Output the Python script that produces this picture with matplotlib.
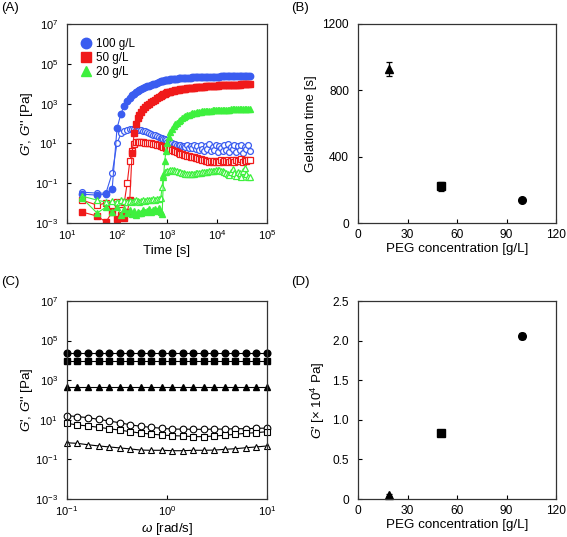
import numpy as np
import matplotlib
matplotlib.use("Agg")
import matplotlib.pyplot as plt
from matplotlib.lines import Line2D
from matplotlib.ticker import LogLocator, LogFormatterMathtext, FixedLocator, NullLocator

plt.rcParams['font.family'] = ['Liberation Sans', 'DejaVu Sans']
plt.rcParams['mathtext.fontset'] = 'custom'
plt.rcParams['mathtext.rm'] = 'Liberation Sans'
plt.rcParams['mathtext.it'] = 'Liberation Sans:italic'
plt.rcParams['mathtext.bf'] = 'Liberation Sans:bold'

# ---------------- Panel A: time sweep ----------------
time_s = [20, 40, 60, 80, 100, 120, 140, 160, 180, 200, 220, 240, 260, 280,
          300, 330, 360, 400, 440, 480, 530, 580, 640, 700, 750, 800, 850, 900, 950,
          1000, 1080, 1170, 1260, 1360, 1470, 1590, 1720, 1860, 2010,
          2170, 2340, 2530, 2740, 2960, 3200, 3460, 3740, 4040, 4370,
          4720, 5100, 5510, 5960, 6440, 6960, 7520, 8130, 8790, 9500,
          10270, 11100, 12000, 12970, 14020, 15150, 16380, 17700, 19130, 20680,
          22350, 24160, 26110, 28220, 30500, 32970, 35640, 38520, 41630, 45000]

# log10 of moduli [Pa]
g100_Gp_log = [-1.55, -1.6, -1.55, -1.3, 1.75, 2.5, 2.9, 3.15, 3.3, 3.42, 3.5, 3.58, 3.64, 3.68,
               3.72, 3.77, 3.81, 3.86, 3.9, 3.94, 3.98, 4.01, 4.05, 4.09, 4.12, 4.14, 4.16, 4.17, 4.19,
               4.20, 4.21, 4.22, 4.23, 4.24, 4.25, 4.26, 4.27, 4.28, 4.28,
               4.29, 4.30, 4.30, 4.31, 4.31, 4.32, 4.32, 4.33, 4.33, 4.33,
               4.34, 4.34, 4.34, 4.35, 4.35, 4.35, 4.35, 4.36, 4.36, 4.36,
               4.36, 4.36, 4.37, 4.37, 4.37, 4.37, 4.37, 4.37, 4.38, 4.38,
               4.38, 4.38, 4.38, 4.38, 4.38, 4.38, 4.38, 4.38, 4.38, 4.38]
g100_Gpp_log = [-1.45, -1.5, -1.5, -0.5, 1.0, 1.5, 1.62, 1.68, 1.7, 1.7, 1.7, 1.69, 1.68, 1.67,
                1.65, 1.62, 1.6, 1.56, 1.52, 1.48, 1.44, 1.4, 1.36, 1.32, 1.28, 1.25, 1.22, 1.2, 1.15,
                1.08, 1.05, 1.02, 1.0, 0.98, 0.95, 0.93, 0.9, 0.92, 0.85,
                0.88, 0.8, 0.9, 0.78, 0.85, 0.75, 0.9, 0.7, 0.85, 0.65,
                0.9, 0.72, 0.6, 0.88, 0.7, 0.95, 0.6, 0.82, 0.68, 0.92,
                0.55, 0.85, 0.75, 0.6, 0.9, 0.65, 0.95, 0.55, 0.8, 0.7,
                0.9, 0.55, 0.85, 0.65, 0.92, 0.5, 0.8, 0.7, 0.9, 0.6]
g50_Gp_log = [-2.45, -2.65, -2.95, -2.45, -2.8, -2.6, -2.75, -2.45, -1.85, 0.5, 1.5, 2.0, 2.3, 2.45,
              2.6, 2.72, 2.82, 2.92, 3.0, 3.07, 3.14, 3.2, 3.27, 3.33, 3.38, 3.42, 3.46, 3.5, 3.53,
              3.56, 3.58, 3.6, 3.62, 3.64, 3.66, 3.68, 3.69, 3.71, 3.72,
              3.74, 3.75, 3.76, 3.77, 3.78, 3.79, 3.8, 3.81, 3.82, 3.83,
              3.84, 3.85, 3.85, 3.86, 3.87, 3.87, 3.88, 3.89, 3.89, 3.9,
              3.9, 3.91, 3.91, 3.92, 3.92, 3.93, 3.93, 3.93, 3.94, 3.94,
              3.94, 3.95, 3.95, 3.95, 3.96, 3.96, 3.96, 3.96, 3.97, 3.97]
g50_Gpp_log = [-1.85, -2.1, -2.0, -2.1, -1.95, -2.05, -1.95, -1.0, 0.1, 0.6, 0.95, 1.05, 1.05, 1.06,
               1.05, 1.05, 1.04, 1.03, 1.02, 1.0, 0.98, 0.96, 0.93, 0.9, 0.88, 0.85, 0.82, 0.8, 0.78,
               0.75, 0.72, 0.7, 0.66, 0.63, 0.6, 0.56, 0.52, 0.48, 0.45,
               0.42, 0.4, 0.37, 0.35, 0.33, 0.3, 0.3, 0.27, 0.25, 0.22,
               0.2, 0.18, 0.15, 0.12, 0.1, 0.08, 0.12, 0.05, 0.1, 0.05,
               0.12, 0.08, 0.15, 0.05, 0.12, 0.1, 0.18, 0.05, 0.12, 0.15,
               0.08, 0.18, 0.1, 0.12, 0.2, 0.08, 0.15, 0.12, 0.18, 0.15]
g20_Gp_log = [-1.75, -2.5, -2.2, -2.45, -2.2, -2.6, -2.3, -2.5, -2.35, -2.55, -2.4, -2.6, -2.45, -2.5,
              -2.5, -2.35, -2.45, -2.4, -2.3, -2.45, -2.35, -2.3, -2.4, -2.25, -2.45, -2.55, -0.7, 0.1, 0.6,
              1.0, 1.3, 1.55, 1.72, 1.85, 1.95, 2.05, 2.12, 2.2, 2.26,
              2.32, 2.37, 2.41, 2.45, 2.48, 2.51, 2.53, 2.55, 2.57, 2.58,
              2.6, 2.61, 2.62, 2.63, 2.64, 2.65, 2.65, 2.66, 2.67, 2.67,
              2.68, 2.68, 2.69, 2.69, 2.69, 2.7, 2.7, 2.7, 2.71, 2.71,
              2.71, 2.71, 2.72, 2.72, 2.72, 2.72, 2.72, 2.72, 2.72, 2.72]
g20_Gpp_log = [-1.65, -1.85, -1.95, -1.9, -1.95, -1.85, -1.9, -1.95, -1.9, -1.95, -1.9, -1.85, -1.9, -1.92,
               -1.9, -1.85, -1.88, -1.85, -1.82, -1.85, -1.8, -1.82, -1.78, -1.8, -1.75, -1.2, -0.6, -0.45, -0.42,
               -0.4, -0.37, -0.35, -0.33, -0.35, -0.37, -0.4, -0.42, -0.45, -0.47,
               -0.5, -0.52, -0.55, -0.55, -0.53, -0.55, -0.52, -0.5, -0.5, -0.48,
               -0.47, -0.45, -0.45, -0.43, -0.42, -0.4, -0.4, -0.38, -0.37, -0.35,
               -0.35, -0.33, -0.38, -0.4, -0.45, -0.5, -0.55, -0.6, -0.45, -0.3,
               -0.5, -0.65, -0.45, -0.5, -0.7, -0.4, -0.25, -0.55, -0.7, -0.7]

conc_labels = ["100 g/L", "50 g/L", "20 g/L"]
colors_A = ["#3a5cf0", "#f01a1a", "#3ef03e"]

# ---------------- Panel B / D ----------------
peg_conc = [19, 50, 99.5]
gel_time = [930, 222, 139]
gel_time_err = [42, 27, 8]
gprime_e4 = [0.05, 0.83, 2.06]
gprime_e4_err = [0.01, 0.01, 0.04]
markers_BD = ["^", "s", "o"]

# ---------------- Panel C: frequency sweep ----------------
omega = [0.1, 0.127, 0.162, 0.207, 0.264, 0.336, 0.428, 0.546, 0.695, 0.886, 1.13,
         1.44, 1.83, 2.34, 2.98, 3.79, 4.83, 6.16, 7.85, 10.0]
c100_Gp_log = [4.37] * 20
c50_Gp_log = [3.98] * 20
c20_Gp_log = [2.67] * 20
c100_Gpp_log = [1.21, 1.16, 1.11, 1.02, 0.94, 0.85, 0.75, 0.67, 0.62, 0.57, 0.53, 0.53,
                0.52, 0.52, 0.53, 0.53, 0.55, 0.55, 0.57, 0.58]
c50_Gpp_log = [0.82, 0.74, 0.69, 0.62, 0.55, 0.48, 0.40, 0.33, 0.28, 0.23, 0.20, 0.18,
               0.15, 0.15, 0.18, 0.22, 0.27, 0.32, 0.35, 0.40]
c20_Gpp_log = [-0.16, -0.19, -0.26, -0.32, -0.37, -0.42, -0.47, -0.53, -0.54, -0.54,
               -0.56, -0.56, -0.54, -0.54, -0.53, -0.49, -0.46, -0.41, -0.37, -0.32]

fig = plt.figure(figsize=(5.67, 5.37), dpi=100)
W, H = 567.0, 537.0


def add_ax(l, t, r, b):
    return fig.add_axes([l / W, 1 - b / H, (r - l) / W, (b - t) / H])


axA = add_ax(67, 24, 267, 223)
axB = add_ax(358, 24, 556, 223)
axC = add_ax(67, 301, 267, 499)
axD = add_ax(358, 301, 556, 499)

LOG_TICK_FS = 8.0
LIN_TICK_FS = 8.6
LAB_FS = 9.6

for ax, fs in ((axA, LOG_TICK_FS), (axB, LIN_TICK_FS), (axC, LOG_TICK_FS), (axD, LIN_TICK_FS)):
    for s in ax.spines.values():
        s.set_linewidth(0.9)
        s.set_color("#333333")
    ax.tick_params(direction="in", length=3, width=0.8, labelsize=fs,
                   top=False, right=False)
    ax.tick_params(axis="y", pad=6.5)
    ax.tick_params(axis="x", pad=4)

# Panel A
t = np.array(time_s)
series_A = [(g100_Gp_log, g100_Gpp_log, "o"), (g50_Gp_log, g50_Gpp_log, "s"),
            (g20_Gp_log, g20_Gpp_log, "^")]
for (gp, gpp, m), c in zip(series_A, colors_A):
    axA.plot(t, 10 ** np.array(gpp), marker=m, ms=4.2, mfc="white", mec=c, mew=0.9,
             color=c, lw=0.8)
    axA.plot(t, 10 ** np.array(gp), marker=m, ms=4.6, mfc=c, mec=c, color=c, lw=0.8)
axA.set_xscale("log")
axA.set_yscale("log")
axA.set_xlim(10, 1e5)
axA.set_ylim(1e-3, 1e7)
axA.xaxis.set_major_locator(LogLocator(base=10, numticks=10))
axA.xaxis.set_minor_locator(NullLocator())
axA.yaxis.set_major_locator(FixedLocator([1e-3, 1e-1, 1e1, 1e3, 1e5, 1e7]))
axA.yaxis.set_minor_locator(NullLocator())
axA.xaxis.set_major_formatter(LogFormatterMathtext())
axA.yaxis.set_major_formatter(LogFormatterMathtext())
axA.set_xlabel("Time [s]", fontsize=LAB_FS, labelpad=2)
axA.set_ylabel("$G$', $G$'' [Pa]", fontsize=LAB_FS, labelpad=0)
handles = [Line2D([], [], ls="none", marker=m, ms=7.5, mfc=c, mec=c)
           for m, c in zip(["o", "s", "^"], colors_A)]
axA.legend(handles, conc_labels, loc="upper left", frameon=False, fontsize=8.4,
           handletextpad=0.2, labelspacing=0.15, borderaxespad=0.3, handlelength=1.2,
           bbox_to_anchor=(0.02, 0.97))

# Panel B
for x, y, e, m in zip(peg_conc, gel_time, gel_time_err, markers_BD):
    axB.errorbar(x, y, yerr=e, fmt=m, ms=5.5, color="black", ecolor="black",
                 elinewidth=0.9, capsize=2.5, capthick=0.9)
axB.set_xlim(0, 120)
axB.set_ylim(0, 1200)
axB.set_xticks([0, 30, 60, 90, 120])
axB.set_yticks([0, 400, 800, 1200])
axB.set_xlabel("PEG concentration [g/L]", fontsize=LAB_FS, labelpad=2)
axB.set_ylabel("Gelation time [s]", fontsize=LAB_FS, labelpad=4)

# Panel C
w = np.array(omega)
for gp, gpp, m in [(c100_Gp_log, c100_Gpp_log, "o"), (c50_Gp_log, c50_Gpp_log, "s"),
                   (c20_Gp_log, c20_Gpp_log, "^")]:
    axC.plot(w, 10 ** np.array(gp), marker=m, ms=4.8, mfc="black", mec="black",
             color="black", lw=0.8, clip_on=False)
    axC.plot(w, 10 ** np.array(gpp), marker=m, ms=4.8, mfc="white", mec="black",
             mew=0.8, color="black", lw=0.8, clip_on=False)
axC.set_xscale("log")
axC.set_yscale("log")
axC.set_xlim(0.1, 10)
axC.set_ylim(1e-3, 1e7)
axC.xaxis.set_major_locator(FixedLocator([0.1, 1, 10]))
axC.xaxis.set_minor_locator(NullLocator())
axC.yaxis.set_major_locator(FixedLocator([1e-3, 1e-1, 1e1, 1e3, 1e5, 1e7]))
axC.yaxis.set_minor_locator(NullLocator())
axC.xaxis.set_major_formatter(LogFormatterMathtext())
axC.yaxis.set_major_formatter(LogFormatterMathtext())
axC.set_xlabel("$\\omega$ [rad/s]", fontsize=LAB_FS, labelpad=2)
axC.set_ylabel("$G$', $G$'' [Pa]", fontsize=LAB_FS, labelpad=0)

# Panel D
for x, y, e, m in zip(peg_conc, gprime_e4, gprime_e4_err, markers_BD):
    axD.errorbar(x, y, yerr=e, fmt=m, ms=5.5, color="black", ecolor="black",
                 elinewidth=0.9, capsize=2.0, capthick=0.9, clip_on=False)
axD.set_xlim(0, 120)
axD.set_ylim(0, 2.5)
axD.set_xticks([0, 30, 60, 90, 120])
axD.set_yticks([0, 0.5, 1.0, 1.5, 2.0, 2.5])
axD.set_yticklabels(["0", "0.5", "1.0", "1.5", "2.0", "2.5"])
axD.set_xlabel("PEG concentration [g/L]", fontsize=LAB_FS, labelpad=2)
axD.set_ylabel("$G$' [× 10$^{4}$ Pa]", fontsize=LAB_FS, labelpad=4)

# Panel letters
for txt, x, y in [("(A)", 1, 8), ("(B)", 291, 8), ("(C)", 1, 282), ("(D)", 291, 282)]:
    fig.text(x / W, 1 - y / H, txt, fontsize=9.5, ha="left", va="center")

fig.savefig("out.png", dpi=100)
